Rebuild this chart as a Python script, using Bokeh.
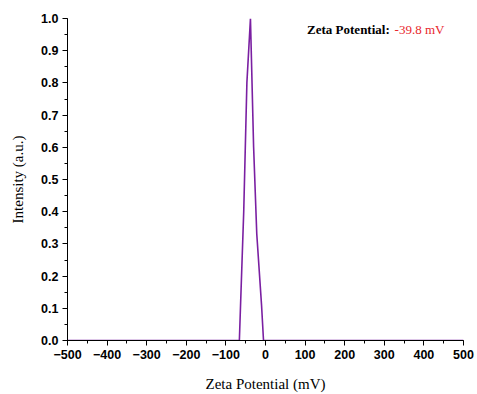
from bokeh.plotting import figure
from bokeh.models import Range1d, SingleIntervalTicker, CustomJSTickFormatter, Label
from bokeh.embed import file_html
from bokeh.resources import INLINE

# Data
zeta_mv = [-500, -66, -63, -55, -47, -38, -30, -22, -10, -5, 500]
intensity = [0.0, 0.0, 0.11, 0.40, 0.80, 1.0, 0.60, 0.33, 0.11, 0.0, 0.0]
annot_label = "Zeta Potential:"
annot_value = "-39.8 mV"

p = figure(width=477, height=394, output_backend="svg", toolbar_location=None,
           x_range=Range1d(-500, 500), y_range=Range1d(0, 1.0),
           min_border_left=67, min_border_right=14, min_border_top=18, min_border_bottom=54)
p.grid.visible = False
p.outline_line_color = None
p.background_fill_color = "white"
p.border_fill_color = "white"

p.line(zeta_mv, intensity, line_color="#7a1fa2", line_width=1.6)

p.xaxis.ticker = SingleIntervalTicker(interval=100, num_minor_ticks=2)
p.yaxis.ticker = SingleIntervalTicker(interval=0.1, num_minor_ticks=2)
p.xaxis.formatter = CustomJSTickFormatter(code="return tick.toFixed(0).replace('-', '\u2212');")
p.yaxis.formatter = CustomJSTickFormatter(code="return tick.toFixed(1);")

for ax in (p.xaxis[0], p.yaxis[0]):
    ax.axis_line_color = "black"
    ax.axis_line_width = 1
    ax.major_tick_line_color = "black"
    ax.minor_tick_line_color = "black"
    ax.major_tick_out = 5
    ax.major_tick_in = 0
    ax.minor_tick_out = 3
    ax.minor_tick_in = 0
    ax.major_label_text_font = "Liberation Sans"
    ax.major_label_text_font_style = "bold"
    ax.major_label_text_font_size = "12.5px"
    ax.major_label_text_color = "black"
    ax.axis_label_text_font = "Liberation Serif"
    ax.axis_label_text_font_style = "normal"
    ax.axis_label_text_font_size = "15px"
    ax.axis_label_text_color = "black"

p.xaxis.axis_label = "Zeta Potential (mV)"
p.yaxis.axis_label = "Intensity (a.u.)"
p.xaxis.major_label_standoff = 4
p.xaxis.axis_label_standoff = 14
p.yaxis.major_label_standoff = 4
p.yaxis.axis_label_standoff = 12

l1 = Label(x=105, y=0.966, text=annot_label, text_font="Liberation Serif",
           text_font_style="bold", text_font_size="13px", text_color="black",
           text_baseline="alphabetic", text_align="left")
l2 = Label(x=326, y=0.966, text=annot_value, text_font="Liberation Serif",
           text_font_size="13px", text_color="#e8262c",
           text_baseline="alphabetic", text_align="left")
p.add_layout(l1)
p.add_layout(l2)

open("out.html", "w").write(file_html(p, INLINE))
